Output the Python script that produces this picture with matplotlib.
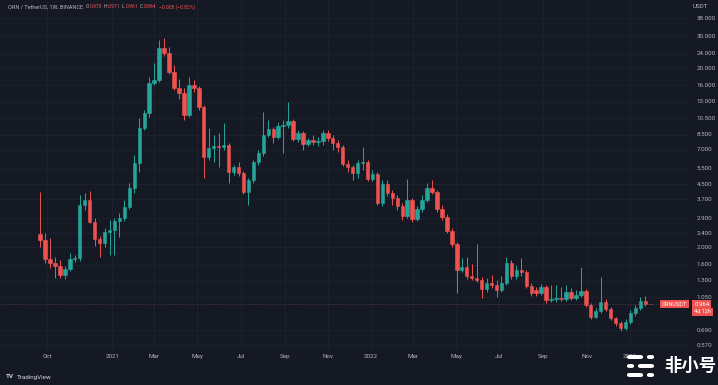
import matplotlib
matplotlib.use('Agg')
import matplotlib.pyplot as plt
import matplotlib.dates as mdates
from matplotlib.patches import FancyBboxPatch
from matplotlib.ticker import NullLocator
import numpy as np
import pandas as pd

plt.rcParams['font.family'] = ['Roboto', 'DejaVu Sans']

# weekly candles ORN/USDT, first week 2020-09-21
first_week = '2020-09-21'
opens = [2.37, 2.20, 1.72, 1.64, 1.575, 1.40, 1.515, 1.72, 1.745, 3.44,
         3.67, 2.77, 2.23, 2.12, 2.44, 2.50, 2.80, 2.91, 3.35, 4.29,
         5.91, 9.26, 11.22, 16.49, 17.14, 25.85, 24.25, 19.00, 15.47, 14.51,
         10.93, 16.07, 15.47, 12.12, 6.38, 7.17, 7.35, 7.26, 7.45, 5.26,
         5.61, 5.20, 4.07, 4.75, 5.98, 6.72, 8.46, 9.14, 8.25, 9.50,
         9.62, 10.13, 8.04, 8.68, 7.54, 7.94, 7.74, 7.84, 8.68, 8.14,
         7.64, 7.26, 5.83, 5.61, 5.20, 5.91, 5.98, 4.81, 5.13, 3.53,
         4.51, 4.02, 3.77, 3.40, 2.99, 3.67, 2.88, 3.27, 3.67, 4.29,
         4.07, 3.27, 2.95, 2.47, 2.09, 1.496, 1.555, 1.385, 1.350, 1.316,
         1.172, 1.266, 1.234, 1.157, 1.266, 1.637, 1.385, 1.496, 1.458, 1.218,
         1.16, 1.113, 1.203, 1.018, 1.031, 1.044, 1.031, 1.128, 1.044, 1.086,
         1.142, 0.952, 0.818, 0.884, 0.992, 0.907, 0.808, 0.757, 0.711, 0.767,
         0.861, 0.918, 1.005, 0.970]
highs = [4.07, 2.41, 2.26, 1.768, 1.70, 1.575, 1.861, 1.814, 3.92, 4.02,
         4.13, 2.91, 2.31, 2.56, 2.84, 2.91, 3.11, 3.67, 4.57, 6.55,
         10.52, 11.66, 17.82, 21.32, 28.65, 29.40, 26.19, 20.78, 17.36, 15.47,
         17.82, 17.14, 15.87, 12.44, 9.26, 8.46, 8.68, 9.87, 7.64, 5.76,
         5.98, 5.33, 4.87, 6.14, 6.98, 11.37, 10.26, 9.38, 10.00, 10.26,
         12.92, 10.39, 9.02, 8.90, 8.14, 8.46, 8.25, 9.02, 9.02, 8.46,
         7.94, 7.45, 6.14, 5.76, 6.14, 7.26, 6.14, 5.40, 5.26, 4.75,
         4.75, 4.18, 3.92, 3.53, 4.81, 3.77, 3.40, 3.92, 4.57, 4.75,
         4.18, 3.44, 3.07, 2.56, 2.14, 1.745, 1.768, 1.615, 2.09, 1.368,
         1.350, 1.403, 1.316, 1.385, 1.768, 1.701, 1.595, 1.745, 1.496, 1.266,
         1.203, 1.250, 1.234, 1.234, 1.234, 1.203, 1.234, 1.188, 1.157, 1.555,
         1.172, 0.979, 0.918, 1.368, 1.031, 0.928, 0.818, 0.777, 0.797, 0.895,
         0.952, 1.058, 1.072, 0.971]
lows = [2.01, 1.637, 1.535, 1.350, 1.350, 1.333, 1.477, 1.658, 1.68, 3.23,
        2.73, 2.04, 1.77, 2.01, 1.81, 1.81, 2.29, 2.80, 3.27, 4.02,
        5.26, 9.02, 10.66, 16.07, 16.71, 23.33, 18.51, 15.08, 13.43, 10.26,
        10.66, 14.70, 11.66, 4.87, 6.14, 5.98, 5.61, 6.98, 4.57, 5.06,
        5.00, 3.97, 3.44, 4.57, 5.76, 6.46, 8.25, 7.64, 8.04, 6.72,
        9.26, 7.84, 7.74, 6.98, 7.35, 7.45, 7.35, 7.45, 7.84, 6.98,
        6.80, 5.69, 5.26, 4.75, 4.87, 5.40, 4.69, 4.69, 3.44, 3.40,
        3.87, 3.44, 3.23, 2.84, 2.91, 2.77, 2.80, 3.15, 3.58, 3.97,
        3.15, 2.84, 2.41, 2.01, 1.113, 1.458, 1.333, 1.316, 1.283, 1.044,
        1.128, 1.188, 1.058, 1.128, 1.234, 1.333, 1.333, 1.385, 1.188, 1.072,
        1.072, 1.086, 0.979, 0.992, 0.992, 1.005, 1.005, 1.018, 1.018, 1.058,
        0.928, 0.797, 0.808, 0.861, 0.884, 0.787, 0.729, 0.684, 0.693, 0.748,
        0.829, 0.895, 0.940, 0.961]
closes = [2.20, 1.72, 1.64, 1.575, 1.40, 1.515, 1.72, 1.745, 3.44, 3.67,
          2.77, 2.23, 2.12, 2.44, 2.50, 2.80, 2.91, 3.35, 4.29, 5.91,
          9.26, 11.22, 16.49, 17.14, 25.85, 24.25, 19.00, 15.47, 14.51, 10.93,
          16.07, 15.47, 12.12, 6.38, 7.17, 7.35, 7.26, 7.45, 5.26, 5.61,
          5.20, 4.07, 4.75, 5.98, 6.72, 8.46, 9.14, 8.25, 9.50, 9.62,
          10.13, 8.04, 8.68, 7.54, 7.94, 7.74, 7.84, 8.68, 8.14, 7.64,
          7.26, 5.83, 5.61, 5.20, 5.91, 5.98, 4.81, 5.13, 3.53, 4.51,
          4.02, 3.77, 3.40, 2.99, 3.67, 2.88, 3.27, 3.67, 4.29, 4.07,
          3.27, 2.95, 2.47, 2.09, 1.496, 1.555, 1.385, 1.350, 1.316, 1.172,
          1.266, 1.234, 1.157, 1.266, 1.637, 1.385, 1.496, 1.458, 1.218, 1.113,
          1.113, 1.203, 1.018, 1.031, 1.044, 1.031, 1.128, 1.044, 1.086, 1.142,
          0.952, 0.818, 0.884, 0.992, 0.907, 0.808, 0.757, 0.711, 0.767, 0.861,
          0.918, 1.005, 0.972, 0.964]

price_ticks = [38, 30, 24, 20, 16, 13, 10.5, 8.5, 7, 5.5, 4.5, 3.7, 2.9, 2.4,
               2.0, 1.6, 1.3, 1.05, 0.69, 0.57]
month_ticks = ['2020-10-01', '2021-01-01', '2021-03-01', '2021-05-01', '2021-07-01',
               '2021-09-01', '2021-11-01', '2022-01-01', '2022-03-01', '2022-05-01',
               '2022-07-01', '2022-09-01', '2022-11-01', '2023-01-01']
month_labels = ['Oct', '2021', 'Mar', 'May', 'Jul', 'Sep', 'Nov', '2022', 'Mar',
                'May', 'Jul', 'Sep', 'Nov', '2023']

bg = '#151924'
up = '#26a69a'
down = '#ef5350'
txt = '#b2b5be'

o = np.array(opens)
h = np.array(highs)
l = np.array(lows)
c = np.array(closes)
dates = pd.date_range(first_week, periods=len(c), freq='7D')
x = mdates.date2num(dates)
cols = np.where(c >= o, up, down)

fig = plt.figure(figsize=(7.18, 3.85), dpi=100, facecolor=bg)
ax = fig.add_axes([0, 35 / 385, 690 / 718, 350 / 385], facecolor=bg)

ax.vlines(x, l, h, colors=cols, linewidth=0.7)
ax.bar(x, np.abs(c - o), bottom=np.minimum(o, c), width=4.8, color=cols,
       edgecolor=cols, linewidth=0.4)

ax.set_yscale('log')
ax.set_ylim(0.535, 47.9)
ax.set_xlim(x[0] - 56.5, x[0] + 917)

# price scale on the right
ax.set_yticks(price_ticks)
ax.yaxis.set_minor_locator(NullLocator())
ax.tick_params(axis='y', length=0, labelleft=False, labelright=False)
yt = ax.get_yaxis_transform()
for v in price_ticks:
    ax.text(1.01, v, f'{v:.3f}', transform=yt, ha='left', va='center',
            color=txt, fontsize=4.5, clip_on=False, zorder=5)

ax.set_xticks(mdates.date2num(pd.to_datetime(month_ticks)))
ax.set_xticklabels(month_labels)
ax.tick_params(axis='x', length=0, pad=3, labelsize=4.5, labelcolor=txt)
ax.grid(True, color='#1e2230', linewidth=0.6)
ax.set_axisbelow(True)
for s in ax.spines.values():
    s.set_visible(False)

# current price line + labels
ax.axhline(c[-1], color='#8a5560', linestyle=(0, (1, 2)), linewidth=0.6, alpha=0.7)
ax.text(1.006, c[-1], f'{c[-1]:.3f}', transform=yt, ha='left', va='center',
        color='white', fontsize=4.3, clip_on=False, zorder=6,
        bbox=dict(boxstyle='square,pad=0.35', fc=down, ec='none'))
ax.text(1.006, c[-1] * 0.905, '4d 12h', transform=yt, ha='left', va='center',
        color='white', fontsize=4.0, clip_on=False, zorder=6,
        bbox=dict(boxstyle='square,pad=0.3', fc=down, ec='none'))
ax.text(0.996, c[-1], 'ORNUSDT', transform=yt, ha='right', va='center',
        color='white', fontsize=4.0, clip_on=False, zorder=6,
        bbox=dict(boxstyle='square,pad=0.3', fc=down, ec='none'))

fig.text(700 / 718, 1 - 7 / 385, 'USDT', color=txt, fontsize=4.5, ha='center', va='center')

# header line
hy = 1 - 7 / 385
fig.text(8 / 718, hy, 'ORN / TetherUS, 1W, BINANCE', color=txt, fontsize=4.0, va='center')
chg = c[-1] - c[-2]
parts = [('O', o[-1], 86), ('H', h[-1], 104), ('L', l[-1], 122), ('C', c[-1], 140)]
for key, val, px in parts:
    fig.text(px / 718, hy, key, color=txt, fontsize=3.6, va='center')
    fig.text((px + 4) / 718, hy, f'{val:.3f}', color=down, fontsize=3.6, va='center')
fig.text(159 / 718, hy, f'\u2212{abs(chg):.3f} (\u2212{abs(chg) / c[-2] * 100:.2f}%)',
         color=down, fontsize=3.6, va='center')

# bottom strip
fig.text(6 / 718, 8 / 385, 'TV', color='#d1d4dc', fontsize=4.5, fontweight='bold', va='center')
fig.text(17 / 718, 8 / 385, 'TradingView', color='#d1d4dc', fontsize=4.5, va='center')

# watermark
for (px, py, w) in [(627, 355, 16), (647, 355, 7), (627, 364, 7), (638, 364, 16),
                    (627, 373, 16), (647, 373, 7)]:
    fig.patches.append(FancyBboxPatch((px / 718, 1 - (py + 4) / 385), w / 718, 4 / 385,
                                      boxstyle='round,pad=0,rounding_size=0.004',
                                      transform=fig.transFigure, fc='white', ec='none'))
fig.text(690 / 718, 1 - 366 / 385, '非小号', color='white', fontsize=12.5, fontweight='bold',
         ha='center', va='center', family=['Noto Sans CJK SC', 'DejaVu Sans'])

fig.savefig('out.png', dpi=100, facecolor=bg)
